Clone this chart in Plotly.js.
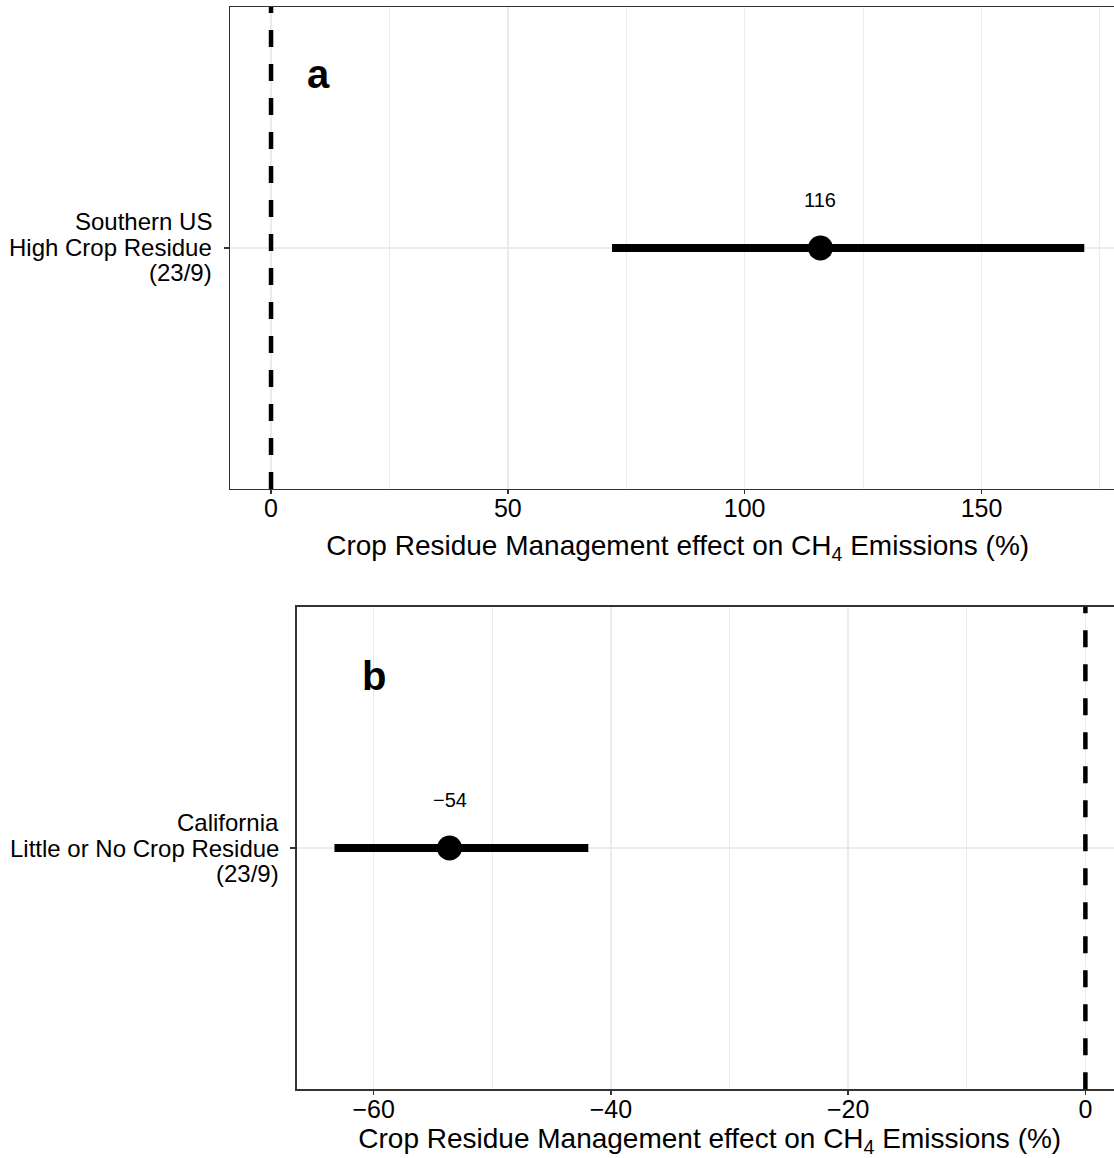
<!DOCTYPE html>
<html>
<head>
<meta charset="utf-8">
<script src="https://cdn.plot.ly/plotly-3.0.1.min.js"></script>
<style>
  html, body { margin: 0; padding: 0; overflow: hidden; background: #fff; }
  #chart { width: 1130px; height: 1158px; }
</style>
</head>
<body>
<div id="chart"></div>
<script>
// ---- data ----
const regionNames = ["Southern US", "California"];
const residueLevels = ["High Crop Residue", "Little or No Crop Residue"];
const studyCounts = ["(23/9)", "(23/9)"];
const effects = [116, -53.6];
const ciLow = [72, -63.3];
const ciHigh = [171.7, -41.9];
const valueLabels = ["116", "\u221254"];
const panelTags = ["a", "b"];
const ticksA = [0, 50, 100, 150];
const tickTextA = ["0", "50", "100", "150"];
const ticksB = [-60, -40, -20, 0];
const tickTextB = ["\u221260", "\u221240", "\u221220", "0"];
const axisTitle = "Crop Residue Management effect on CH<sub>4</sub> Emissions (%)";

const categories = regionNames.map((n, i) => n + " " + residueLevels[i] + " " + studyCounts[i]);

const W = 1130, H = 1158;
const FONT = "Liberation Sans, Arial, Helvetica, sans-serif";

const traces = categories.map((c, i) => ({
  type: "scatter",
  mode: "markers",
  x: [effects[i]],
  y: [c],
  xaxis: i === 0 ? "x" : "x2",
  yaxis: i === 0 ? "y" : "y2",
  marker: { color: "#000", size: 25 },
  error_x: {
    type: "data", symmetric: false,
    array: [ciHigh[i] - effects[i]],
    arrayminus: [effects[i] - ciLow[i]],
    color: "#000", thickness: 8, width: 0
  },
  showlegend: false,
  hoverinfo: "x+y"
}));

function xAxis(domain, range, tickvals, ticktext, dtickMinor, anchor, standoff) {
  return {
    domain: domain, range: range, anchor: anchor,
    tickmode: "array", tickvals: tickvals, ticktext: ticktext,
    ticks: "outside", ticklen: 4, tickwidth: 1.4, tickcolor: "#333",
    ticklabelstandoff: -7,
    tickfont: { family: FONT, size: 25, color: "#000" },
    showgrid: true, gridcolor: "#ebebeb", gridwidth: 1.3,
    minor: { dtick: dtickMinor, tick0: 0, showgrid: true, gridcolor: "#ebebeb", gridwidth: 1, ticks: "" },
    zeroline: false,
    showline: true, linecolor: "#333", linewidth: 1.4, mirror: true,
    title: { text: axisTitle, font: { family: FONT, size: 28, color: "#000" }, standoff: standoff },
    automargin: false, fixedrange: true
  };
}
function yAxis(domain, cat, anchor) {
  return {
    domain: domain, type: "category", categoryarray: [cat], range: [-0.6, 0.6],
    anchor: anchor,
    ticks: "outside", ticklen: 5, tickwidth: 1.4, tickcolor: "#333",
    showticklabels: false,
    showgrid: true, gridcolor: "#ebebeb", gridwidth: 1.3,
    zeroline: false,
    showline: true, linecolor: "#333", linewidth: 1.4, mirror: true,
    automargin: false, fixedrange: true
  };
}

// category label lines (drawn as text beside each y axis tick)
const labelAnnotations = [];
categories.forEach((c, i) => {
  const ax = i === 0 ? "" : "2";
  const lines = [regionNames[i], residueLevels[i], studyCounts[i]];
  const shifts = [26, 0, -25];
  lines.forEach((t, k) => {
    labelAnnotations.push({
      xref: "x" + ax + " domain", yref: "y" + ax, x: 0, y: c,
      xanchor: "right", yanchor: "middle", xshift: -16, yshift: shifts[k],
      text: t, showarrow: false,
      font: { family: FONT, size: 24, color: "#000" }
    });
  });
});

const layout = {
  width: W, height: H,
  margin: { l: 0, r: 0, t: 0, b: 0 },
  paper_bgcolor: "#fff", plot_bgcolor: "#fff",
  font: { family: FONT, color: "#000" },
  xaxis: xAxis([230.3 / W, 1125 / W], [-8.6, 180.3], ticksA, tickTextA, 25, "y", 14),
  yaxis: yAxis([669 / H, 1151 / H], categories[0], "x"),
  xaxis2: xAxis([296.5 / W, 1123 / W], [-66.5, 3.17], ticksB, tickTextB, 10, "y2", 6),
  yaxis2: yAxis([68.7 / H, 551.3 / H], categories[1], "x2"),
  shapes: [
    { type: "line", xref: "x", yref: "y domain", x0: 0, x1: 0, y0: 0, y1: 1,
      line: { color: "#000", width: 4.5, dash: "17px,17px" } },
    { type: "line", xref: "x2", yref: "y2 domain", x0: 0, x1: 0, y0: 0, y1: 1,
      line: { color: "#000", width: 4.5, dash: "17px,17px" } }
  ],
  annotations: labelAnnotations.concat([
    { xref: "x", yref: "y", x: effects[0], y: categories[0], yshift: 48, text: valueLabels[0], showarrow: false,
      font: { family: FONT, size: 20, color: "#000" } },
    { xref: "x2", yref: "y2", x: effects[1], y: categories[1], yshift: 48, text: valueLabels[1], showarrow: false,
      font: { family: FONT, size: 20, color: "#000" } },
    { xref: "x", yref: "y domain", x: 10, y: 0.91, text: "<b>" + panelTags[0] + "</b>", showarrow: false,
      font: { family: FONT, size: 40, color: "#000" } },
    { xref: "x2", yref: "y2 domain", x: -60, y: 0.907, text: "<b>" + panelTags[1] + "</b>", showarrow: false,
      font: { family: FONT, size: 40, color: "#000" } }
  ])
};

Plotly.newPlot("chart", traces, layout, { staticPlot: true, displayModeBar: false });
</script>
</body>
</html>
